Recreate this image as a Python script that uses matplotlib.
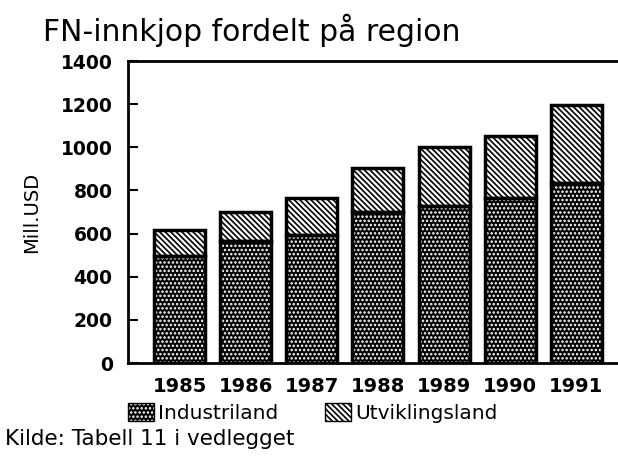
import numpy as np
import matplotlib.pyplot as plt
from matplotlib.patches import Patch

# data (Mill. USD)
years = ['1985', '1986', '1987', '1988', '1989', '1990', '1991']
industriland = [498, 567, 595, 702, 726, 767, 833]
utviklingsland = [117, 131, 172, 200, 274, 284, 362]
yticks = [0, 200, 400, 600, 800, 1000, 1200, 1400]

plt.rcParams['hatch.linewidth'] = 1.2

fig = plt.figure(figsize=(6.18, 4.59), dpi=100)
ax = fig.add_axes([0.207, 0.209, 0.793, 0.658])

dots = '....'
stripes = '\\' * 6

x = np.arange(len(years))
w = 0.77
# industriland: black with white dots
ax.bar(x, industriland, w, color='black', edgecolor='white', hatch=dots, linewidth=0)
# utviklingsland: white with black stripes
ax.bar(x, utviklingsland, w, bottom=industriland, color='white', edgecolor='black',
       hatch=stripes, linewidth=0)
# outlines
ax.bar(x, industriland, w, fill=False, edgecolor='black', linewidth=2.5)
ax.bar(x, utviklingsland, w, bottom=industriland, fill=False, edgecolor='black', linewidth=2.5)

ax.set_xlim(-0.78, 6.63)
ax.set_ylim(0, 1400)
ax.set_yticks(yticks)
ax.set_xticks(x)
ax.set_xticklabels(years, fontsize=14, fontweight='bold')
ax.set_yticklabels([str(v) for v in yticks], fontsize=13.5, fontweight='bold')
ax.tick_params(axis='x', length=0, pad=10)
ax.tick_params(axis='y', direction='in', length=7, width=1.5, pad=11)

ax.spines['right'].set_visible(False)
for s in ['left', 'bottom', 'top']:
    ax.spines[s].set_linewidth(2)

ax.set_ylabel('Mill.USD', fontsize=14, labelpad=14)

fig.text(0.07, 0.91, 'FN-innkjop fordelt på region', fontsize=21.5)

h1 = (Patch(facecolor='black', edgecolor='white', hatch=dots, linewidth=0),
      Patch(fill=False, edgecolor='black', linewidth=1))
h2 = (Patch(facecolor='white', edgecolor='black', hatch=stripes, linewidth=0),
      Patch(fill=False, edgecolor='black', linewidth=1))
fig.legend([h1, h2], ['Industriland', 'Utviklingsland'], loc='center left',
           bbox_to_anchor=(0.178, 0.1), ncol=2, frameon=False, fontsize=14.5,
           handlelength=1.3, handleheight=1.0, handletextpad=0.2, columnspacing=2.3)

fig.text(0.008, 0.03, 'Kilde: Tabell 11 i vedlegget', fontsize=15.5)

plt.savefig('out.png', dpi=100)
